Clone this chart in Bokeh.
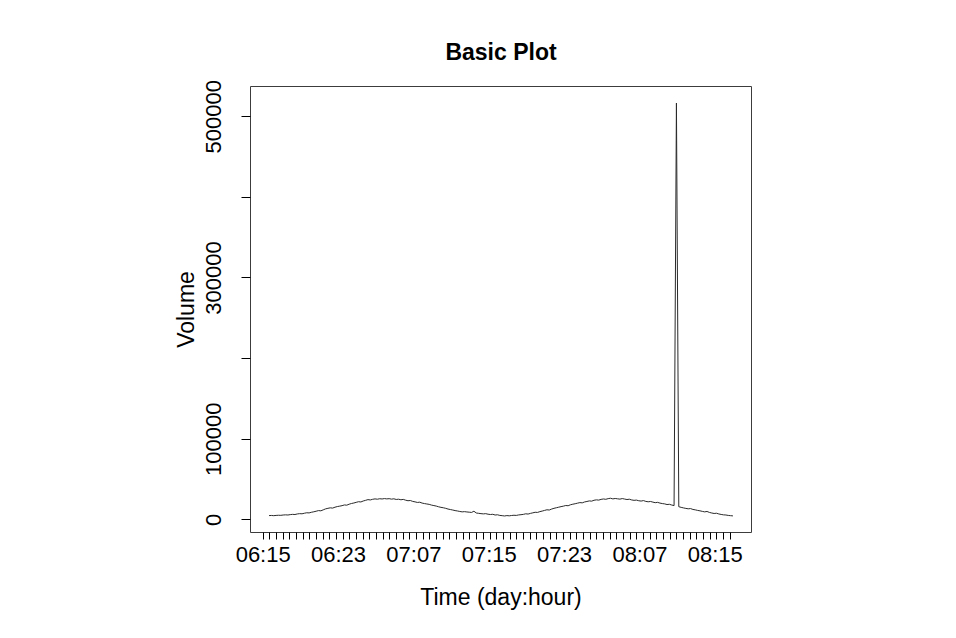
from bokeh.plotting import figure
from bokeh.models import FixedTicker, Range1d
from bokeh.embed import file_html
from bokeh.resources import INLINE

# ---- data: volume sampled every 15 minutes, starting day 06 15:37 ----
start_hour = 0.625      # hours after day 06, 15:00
step_hours = 0.25       # 15-minute samples
volume = [
    5200, 5350, 5100, 5400, 5600, 5500, 5900, 6100,
    5900, 6400, 6700, 6500, 7200, 7600, 7400, 8100,
    8700, 8500, 9300, 9900, 10600, 11400, 11100, 12300,
    13500, 14200, 14800, 14500, 15600, 16400, 16900, 17500,
    18400, 18100, 19300, 20200, 20800, 21600, 22400, 22100,
    23300, 24100, 25000, 24600, 25400, 25900, 25500, 26100,
    25800, 26300, 25900, 26200, 25600, 26000, 25200, 25500,
    24800, 25300, 24300, 23600, 23900, 22800, 22200, 21500,
    21800, 20700, 20100, 19600, 19100, 18200, 17600, 17000,
    16100, 15400, 14900, 14200, 13300, 12700, 12100, 11400,
    10900, 10300, 9800, 10100, 9700, 9400, 9100, 10600,
    8400, 8000, 7600, 7300, 7600, 6900, 6500, 6800,
    5900, 6200, 5400, 5100, 4700, 5200, 4900, 5300,
    5600, 5400, 6000, 6300, 6700, 7400, 7100, 7900,
    8600, 9300, 9100, 10100, 10800, 11600, 12400, 12100,
    13300, 14200, 14900, 15600, 16300, 16900, 17700, 17400,
    18600, 19300, 19900, 20600, 21300, 21000, 22100, 22700,
    23400, 23100, 24200, 24700, 24400, 25300, 25800, 25400,
    26200, 26700, 25900, 26400, 26000, 25600, 26300, 25700,
    25100, 25500, 24600, 24100, 24400, 23600, 23200, 23800,
    22800, 22300, 22700, 21900, 21200, 21600, 20700, 20100,
    19700, 18900, 19200, 18300, 17600, 517000, 16200, 15400,
    14700, 14100, 13600, 13900, 12800, 12300, 11600, 11100,
    10400, 9800, 10300, 9100, 8400, 7800, 8100, 7200,
    6600, 6100, 5900, 5400, 5100, 4800,
]
hours = [start_hour + step_hours * i for i in range(len(volume))]

x_tick_labels = ["06:15", "06:23", "07:07", "07:15", "07:23", "08:07", "08:15"]
x_label_hours = [0, 8, 16, 24, 32, 40, 48]
x_mark_step = 42.5 / 60.0   # hours between axis tick marks
x_mark_count = 71

y_ticks = [0, 100000, 200000, 300000, 400000, 500000]
y_tick_labels = ["0", "100000", "", "300000", "", "500000"]

# R-style 4% padding
def padded(lo, hi):
    r = hi - lo
    return lo - 0.04 * r, hi + 0.04 * r

x0, x1 = padded(min(hours), max(hours))
y0, y1 = padded(min(volume), max(volume))

FONT = "Liberation Sans"

p = figure(width=940, height=622, output_backend="svg", toolbar_location=None,
           x_range=Range1d(x0, x1), y_range=Range1d(y0, y1),
           min_border_left=250, min_border_right=189,
           min_border_top=86, min_border_bottom=90,
           title="Basic Plot")

p.line(hours, volume, line_color="#2a2a2a", line_width=1)

p.grid.visible = False
p.background_fill_color = "white"
p.border_fill_color = "white"
p.outline_line_color = "#3c3c3c"
p.outline_line_width = 1

p.title.align = "center"
p.title.text_font = FONT
p.title.text_font_size = "23px"
p.title.text_font_style = "bold"
p.title.text_color = "black"
p.title.standoff = 44

# x axis
xa = p.xaxis[0]
xa.ticker = FixedTicker(ticks=x_label_hours,
                        minor_ticks=[x_mark_step * i for i in range(x_mark_count)])
xa.major_label_overrides = {h: lab for h, lab in zip(x_label_hours, x_tick_labels)}
xa.axis_line_color = None
xa.major_tick_line_color = None
xa.major_tick_out = 7
xa.major_tick_in = 0
xa.minor_tick_line_color = "black"
xa.minor_tick_out = 7
xa.minor_tick_in = 0
xa.major_label_text_font = FONT
xa.major_label_text_font_size = "22px"
xa.major_label_text_color = "black"
xa.major_label_standoff = 2
xa.axis_label = "Time (day:hour)"
xa.axis_label_text_font = FONT
xa.axis_label_text_font_size = "23px"
xa.axis_label_text_font_style = "normal"
xa.axis_label_text_color = "black"
xa.axis_label_standoff = 14

# y axis
ya = p.yaxis[0]
ya.ticker = FixedTicker(ticks=y_ticks, minor_ticks=[])
ya.major_label_overrides = {t: lab for t, lab in zip(y_ticks, y_tick_labels)}
ya.axis_line_color = None
ya.major_tick_line_color = "black"
ya.major_tick_out = 9
ya.major_tick_in = 0
ya.minor_tick_line_color = None
ya.major_label_orientation = "vertical"
ya.major_label_text_font = FONT
ya.major_label_text_font_size = "22px"
ya.major_label_text_color = "black"
ya.major_label_standoff = 20
ya.axis_label = "Volume"
ya.axis_label_text_font = FONT
ya.axis_label_text_font_size = "23px"
ya.axis_label_text_font_style = "normal"
ya.axis_label_text_color = "black"
ya.axis_label_standoff = 5

open("out.html", "w").write(file_html(p, INLINE))
